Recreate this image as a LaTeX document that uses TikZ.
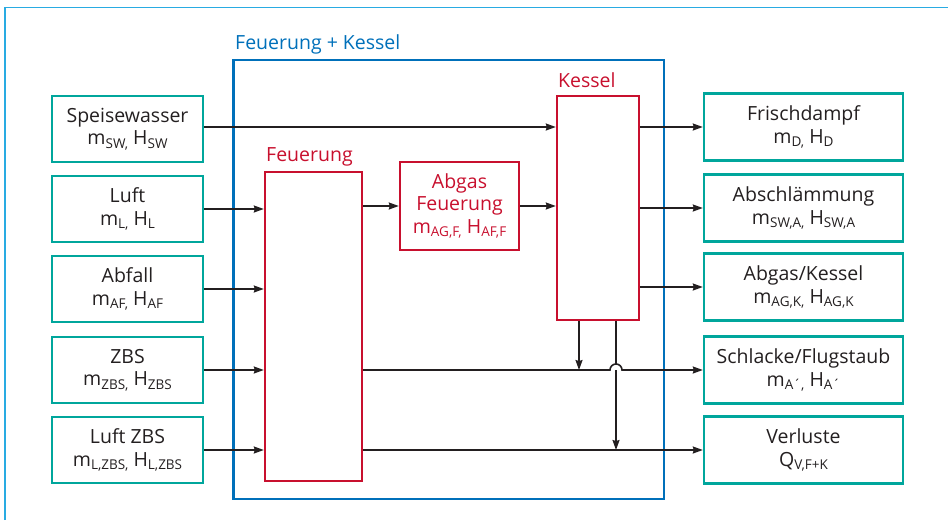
\documentclass[tikz,border=0pt]{standalone}
\usepackage{fontspec}
\setmainfont{Open Sans}
\usetikzlibrary{arrows.meta}
\definecolor{boxteal}{RGB}{0,166,156}
\definecolor{boxred}{RGB}{200,16,46}
\definecolor{fkblue}{RGB}{0,112,186}
\definecolor{framecyan}{RGB}{41,171,226}
\definecolor{ink}{RGB}{35,31,32}
\newcommand{\sub}[1]{\raisebox{-3.5pt}{\fontsize{13.5}{14}\selectfont #1}}
\tikzset{
  stream/.style={draw=boxteal, line width=2.4pt, minimum width=151pt, minimum height=66pt,
    align=center, text=ink, inner sep=0pt},
  outstream/.style={stream, minimum width=199pt, minimum height=67pt},
  unit/.style={draw=boxred, line width=2.4pt, inner sep=0pt},
  redlabel/.style={text=boxred, anchor=base west, inner sep=0pt},
  flow/.style={->, draw=ink, line width=1.6pt}
}
\begin{document}
\begin{tikzpicture}[>={Stealth[length=10pt,width=7pt,inset=1pt]}, x=1pt, y=-1pt,
  font=\fontsize{19.5}{22.5}\selectfont]
\useasboundingbox (0,0) rectangle (948,520);
% frame
\draw[framecyan, line width=1.4pt](5,520)--(5,7.5)--(948,7.5);

% Feuerung + Kessel
\node[draw=fkblue, line width=2.4pt, minimum width=430.5pt, minimum height=439pt] (fk) at (448.75,279.5){};
\node[text=fkblue, anchor=base west, inner sep=0pt] at (235,49){Feuerung + Kessel};

% inputs
\node[stream] (spw) at (127.5,129){Speisewasser\\m\sub{SW,} H\sub{SW}};
\node[stream] (luft) at (127.5,209){Luft\\m\sub{L,} H\sub{L}};
\node[stream] (abf) at (127.5,289){Abfall\\m\sub{AF,} H\sub{AF}};
\node[stream] (zbs) at (127.5,370){ZBS\\m\sub{ZBS,} H\sub{ZBS}};
\node[stream] (lzbs) at (127.5,450){Luft ZBS\\m\sub{L,ZBS,} H\sub{L,ZBS}};

% outputs
\node[outstream] (fd) at (803.5,127){Frischdampf\\m\sub{D,} H\sub{D}};
\node[outstream] (abs) at (803.5,208){Abschlämmung\\m\sub{SW,A,} H\sub{SW,A}};
\node[outstream] (agk) at (803.5,287){Abgas/Kessel\\m\sub{AG,K,} H\sub{AG,K}};
\node[outstream] (sf) at (803.5,370){Schlacke/Flugstaub\\m\sub{A´,} H\sub{A´}};
\node[outstream] (vl) at (803.5,450){Verluste\\Q\sub{V,F+K}};

% units
\node[unit, minimum width=97pt, minimum height=309pt] (feu) at (313.5,326.5){};
\node[redlabel] at (266,161){Feuerung};
\node[unit, minimum width=119pt, minimum height=88pt, text=boxred, align=center] (agf) at (459.5,206)
  {Abgas\\Feuerung\\m\sub{AG,F,} H\sub{AF,F}};
\node[unit, minimum width=82pt, minimum height=224pt] (kes) at (598,208){};
\node[redlabel] at (558,87){Kessel};

% streams in
\draw[flow](spw.east |- fd)--(kes.west |- fd);
\foreach \s in {luft,abf,zbs,lzbs}
{
    \draw[flow](\s.east)--(feu.west |- \s);
}
\draw[flow](feu.east |- agf)--(agf.west);
\draw[flow](agf.east)--(kes.west |- agf);

% streams out
\foreach \s in {fd,abs,agk}
{
    \draw[flow](kes.east |- \s)--(\s.west);
}
\coordinate (hop) at (616,370);
\draw[flow](feu.east |- sf)--([xshift=-6pt]hop)arc[start angle=180,end angle=0,radius=6pt]--(sf.west);
\draw[flow](feu.east |- vl)--(vl.west);
\draw[flow](kes.south -| 579,0)--(579,370);
\draw[draw=ink, line width=1.6pt](kes.south -| hop)--([yshift=6pt]hop);
\draw[flow](hop)--(hop |- vl);

\end{tikzpicture}
\end{document}
